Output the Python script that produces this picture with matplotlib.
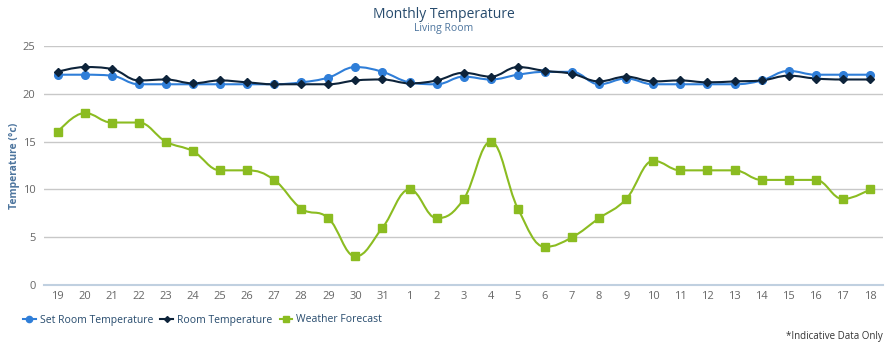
import numpy as np
import matplotlib.pyplot as plt
from matplotlib.path import Path
from matplotlib.patches import PathPatch

plt.rcParams['font.family'] = ['Open Sans', 'DejaVu Sans']

days = ['19', '20', '21', '22', '23', '24', '25', '26', '27', '28', '29', '30', '31',
        '1', '2', '3', '4', '5', '6', '7', '8', '9', '10', '11', '12', '13', '14', '15', '16', '17', '18']
set_room = [22.0, 22.0, 21.9, 21.0, 21.0, 21.0, 21.0, 21.0, 21.0, 21.2, 21.7, 22.8, 22.3,
            21.2, 21.0, 21.8, 21.5, 22.0, 22.3, 22.3, 21.0, 21.6, 21.0, 21.0, 21.0, 21.0,
            21.4, 22.4, 22.0, 22.0, 22.0]
room = [22.3, 22.8, 22.6, 21.4, 21.5, 21.1, 21.4, 21.2, 21.0, 21.0, 21.0, 21.4, 21.5,
        21.1, 21.4, 22.2, 21.8, 22.8, 22.4, 22.1, 21.3, 21.8, 21.3, 21.4, 21.2, 21.3,
        21.4, 21.9, 21.6, 21.5, 21.5]
forecast = [16, 18, 17, 17, 15, 14, 12, 12, 11, 8, 7, 3, 6, 10, 7, 9, 15, 8, 4, 5, 7, 9,
            13, 12, 12, 12, 11, 11, 11, 9, 10]

BLUE = '#2f7ed8'
NAVY = '#0d233a'
GREEN = '#8bbc21'


def spline_path(xs, ys, smoothing=1.5):
    # highcharts-style spline control points
    n = len(xs)
    denom = smoothing + 1
    verts = [(xs[0], ys[0])]
    codes = [Path.MOVETO]
    ctrl = [None] * n
    for i in range(n):
        x, y = xs[i], ys[i]
        if 0 < i < n - 1:
            lx, ly = xs[i - 1], ys[i - 1]
            nx, ny = xs[i + 1], ys[i + 1]
            lcx = (smoothing * x + lx) / denom
            lcy = (smoothing * y + ly) / denom
            rcx = (smoothing * x + nx) / denom
            rcy = (smoothing * y + ny) / denom
            corr = (rcy - lcy) * (rcx - x) / (rcx - lcx) + y - rcy
            lcy += corr
            rcy += corr
            if lcy > ly and lcy > y:
                lcy = max(ly, y)
                rcy = 2 * y - lcy
            elif lcy < ly and lcy < y:
                lcy = min(ly, y)
                rcy = 2 * y - lcy
            if rcy > ny and rcy > y:
                rcy = max(ny, y)
                lcy = 2 * y - rcy
            elif rcy < ny and rcy < y:
                rcy = min(ny, y)
                lcy = 2 * y - rcy
            ctrl[i] = ((lcx, lcy), (rcx, rcy))
        else:
            ctrl[i] = ((x, y), (x, y))
    for i in range(1, n):
        verts += [ctrl[i - 1][1], ctrl[i][0], (xs[i], ys[i])]
        codes += [Path.CURVE4] * 3
    return Path(verts, codes)


fig = plt.figure(figsize=(8.87, 3.46), dpi=100)
ax = fig.add_axes([0.0496, 0.176, 0.9464, 0.691])

x = np.arange(len(days))
series = [(set_room, BLUE, 'o', 5.5, 'Set Room Temperature'),
          (room, NAVY, 'D', 4, 'Room Temperature'),
          (forecast, GREEN, 's', 5.5, 'Weather Forecast')]
for vals, col, mk, ms, lab in series:
    ax.add_patch(PathPatch(spline_path(x, vals), fill=False, edgecolor=col, lw=1.5, zorder=3))
    ax.plot(x, vals, ls='none', marker=mk, ms=ms, color=col, zorder=4)
    ax.plot([], [], color=col, marker=mk, ms=ms - 1, lw=1.5, label=lab)

ax.set_xlim(-0.5, len(days) - 0.5)
ax.set_ylim(0, 25)
ax.set_yticks([0, 5, 10, 15, 20, 25])
ax.set_xticks(x)
ax.set_xticklabels(days)
ax.grid(axis='y', color='#c8c8c8', lw=1)
ax.set_axisbelow(True)
for s in ['top', 'right', 'left']:
    ax.spines[s].set_visible(False)
ax.spines['bottom'].set_color('#c0d0e0')
ax.spines['bottom'].set_linewidth(1.5)
ax.tick_params(axis='both', length=0, labelsize=8, labelcolor='#666666')
ax.tick_params(axis='y', pad=6)
ax.tick_params(axis='x', pad=4)
ax.set_ylabel('Temperature (°c)', fontsize=7.5, fontweight='bold', color='#4d759e')
ax.yaxis.set_label_coords(-0.028, 0.5)

fig.text(0.5, 1 - 14 / 346, 'Monthly Temperature', ha='center', va='center',
         fontsize=10, color='#274b6d')
fig.text(0.5, 1 - 29 / 346, 'Living Room', ha='center', va='center',
         fontsize=7.5, color='#4d759e')

fig.legend(loc='center left', bbox_to_anchor=(0.026, 1 - 320 / 346), ncol=3, frameon=False,
           fontsize=7.5, handlelength=1.2, handletextpad=0.4, columnspacing=0.7,
           labelcolor='#274b6d', borderaxespad=0, borderpad=0)
fig.text(0.995, 1 - 337 / 346, '*Indicative Data Only', ha='right', va='center',
         fontsize=7, color='#333333')

fig.savefig('out.png', dpi=100)
